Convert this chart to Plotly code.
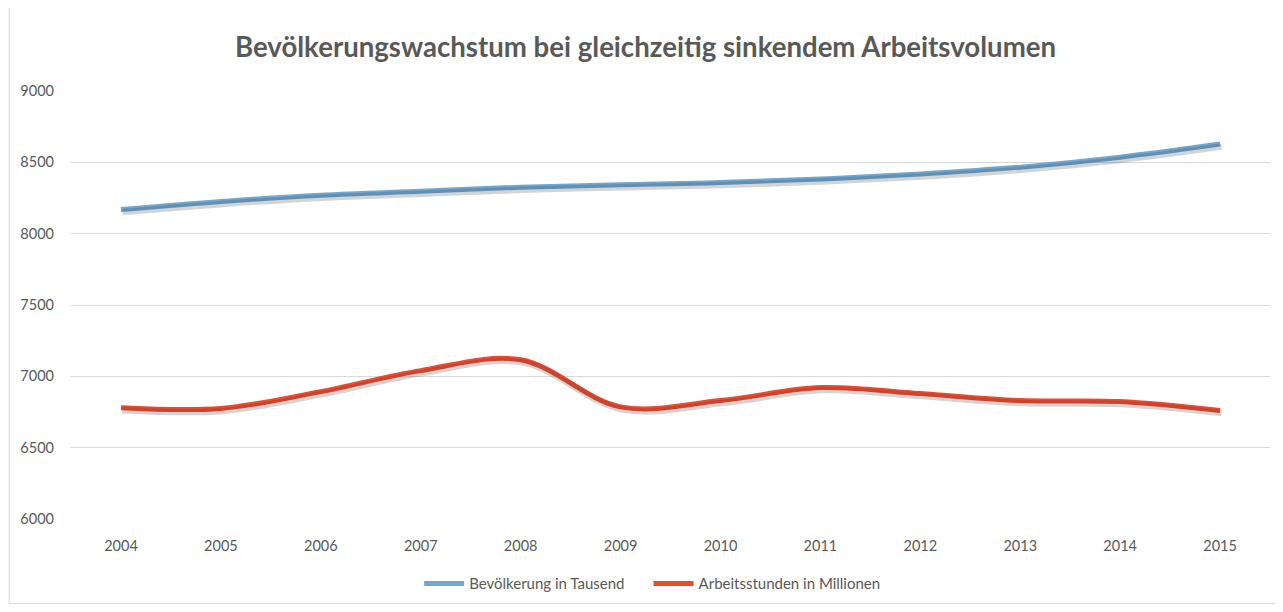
import plotly.graph_objects as go

years = ["2004", "2005", "2006", "2007", "2008", "2009", "2010", "2011", "2012", "2013", "2014", "2015"]
bevoelkerung = [8170, 8226, 8270, 8298, 8326, 8342, 8358, 8383, 8418, 8466, 8536, 8628]
arbeitsstunden = [6780, 6775, 6893, 7040, 7116, 6786, 6830, 6921, 6879, 6830, 6823, 6760]
y_ticks = [6000, 6500, 7000, 7500, 8000, 8500, 9000]

# page body adds an 8px margin on the top and left
PAD = 8
W, H = 1283 - PAD, 612 - PAD
L, R, T, B = 68 - PAD, 13, 91 - PAD, 91
pw, ph = W - L - R, H - T - B

blue = "#6FA8D4"
red = "#F2482A"
shadow = "rgba(60,60,60,0.22)"
txt = "#595959"
font = "Lato, Carlito, Calibri, sans-serif"

fig = go.Figure()

# soft drop shadows drawn on slightly offset overlay axes (same data)
dx, dy = 1.5, 2.5
xr = [-0.5, len(years) - 0.5]
span_x = xr[1] - xr[0]
off_x = dx / pw * span_x
off_y = dy / ph * 3000
for vals in (bevoelkerung, arbeitsstunden):
    fig.add_trace(go.Scatter(x=list(range(len(years))), y=vals, mode="lines",
                             line=dict(color=shadow, width=6.5, shape="spline", smoothing=1),
                             xaxis="x2", yaxis="y2", showlegend=False, hoverinfo="skip"))

fig.add_trace(go.Scatter(x=years, y=bevoelkerung, mode="lines", name="Bevölkerung in Tausend",
                         line=dict(color=blue, width=5, shape="spline", smoothing=1),
                         legend="legend"))
fig.add_trace(go.Scatter(x=years, y=arbeitsstunden, mode="lines", name="Arbeitsstunden in Millionen",
                         line=dict(color=red, width=5, shape="spline", smoothing=1),
                         legend="legend2"))

def px_x(x):
    return (x - PAD - L) / pw

def px_y(y):
    return (T + ph - (y - PAD)) / ph

leg_common = dict(orientation="h", xanchor="left", y=px_y(586), yanchor="middle",
                  font=dict(size=15, color=txt), itemwidth=40, bgcolor="rgba(0,0,0,0)")

fig.update_layout(
    width=W, height=H,
    margin=dict(l=L, r=R, t=T, b=B),
    paper_bgcolor="white", plot_bgcolor="white",
    font=dict(family=font, color=txt, size=15),
    title=dict(text="<b>Bevölkerungswachstum bei gleichzeitig sinkendem Arbeitsvolumen</b>",
               x=0.5, xanchor="center", y=1 - (47 - PAD) / H, yanchor="middle",
               font=dict(size=27.6, color=txt, family=font)),
    xaxis=dict(type="category", range=xr, showgrid=False, showline=False, ticks="",
               tickfont=dict(size=14.5, color=txt), ticklabelstandoff=16, zeroline=False),
    yaxis=dict(range=[6000, 9000], tickvals=y_ticks, showgrid=True, gridcolor="#D9D9D9",
               gridwidth=1, zeroline=False, showline=False, ticks="",
               tickfont=dict(size=14.5, color=txt), ticklabelstandoff=16),
    xaxis2=dict(overlaying="x", range=[xr[0] - off_x, xr[1] - off_x], visible=False),
    yaxis2=dict(overlaying="y", range=[6000 + off_y, 9000 + off_y], visible=False),
    legend=dict(x=px_x(425 - 8), **leg_common),
    legend2=dict(x=px_x(655 - 8), **leg_common),
    shapes=[dict(type="rect", xref="paper", yref="paper",
                 x0=px_x(6), x1=px_x(1278), y0=px_y(606), y1=px_y(6),
                 line=dict(color="#D9D9D9", width=1), fillcolor="rgba(0,0,0,0)", layer="below")],
    showlegend=True,
)

fig.write_html("out.html")
